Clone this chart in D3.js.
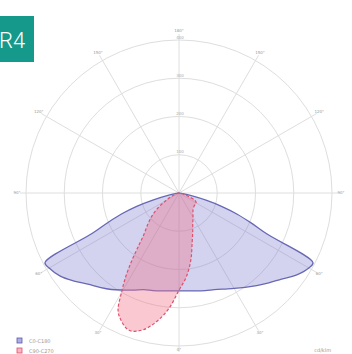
<!DOCTYPE html>
<html>
<head>
<meta charset="utf-8">
<script src="https://cdn.jsdelivr.net/npm/d3@7"></script>
<style>
  html, body { margin: 0; padding: 0; background: #fff; }
  svg { display: block; }
</style>
</head>
<body>
<svg id="chart" width="352" height="354"></svg>
<script>
// Gamma angles (degrees from nadir) used for the intensity tables
const gammaAngles = [0, 5, 10, 15, 20, 25, 30, 35, 40, 45, 50, 55, 60, 62.5, 65, 67.5, 70, 72.5, 75, 77.5, 80, 85, 90];

// C0-C180 plane, cd/klm
const c0Values   = [256, 257, 260, 264, 269, 277, 288, 301, 316, 332, 350, 374, 392, 395, 254, 204, 162, 118, 73, 33, 10, 2, 0];
const c180Values = [256, 257, 260, 264, 269, 280, 293, 308, 322, 337, 358, 379, 392, 395, 251, 201, 159, 116, 71, 32, 10, 2, 0];

// C90-C270 plane, cd/klm
const gammaAnglesB = [0, 5, 10, 15, 20, 25, 27.5, 30, 32.5, 35, 37.5, 40, 45, 50, 55, 60, 65, 70, 75, 80, 85, 90];
const c90Values  = [254, 220, 178, 133, 105, 85, 79, 73, 68, 63, 60, 57, 54, 52, 52, 52, 47, 26, 13, 8, 3, 0];
const c270Values = [254, 303, 342, 371, 382, 363, 345, 301, 259, 214, 173, 144, 115, 91, 65, 39, 24, 13, 7, 3, 1, 0];

// Grid
const ringValues = [100, 200, 300, 400];
const spokeAngles = [0, 30, 60, 90, 120, 150, 180, 210, 240, 270, 300, 330];
const angleLabels = ["0°", "30°", "60°", "90°", "120°", "150°", "180°", "150°", "120°", "90°", "60°", "30°"];

const legendNames = ["C0-C180", "C90-C270"];
const unitLabel = "cd/klm";
const badgeText = "R4";

const svg = d3.select("#chart");
const cx = 179, cy = 193, R = 153;

const r = d3.scaleLinear().domain([0, 400]).range([0, R]);
const toRad = d => d * Math.PI / 180;

const g = svg.append("g").attr("transform", `translate(${cx},${cy})`);

// rings
g.selectAll("circle.ring").data(ringValues).join("circle")
  .attr("class", "ring")
  .attr("r", d => r(d))
  .attr("fill", "none")
  .attr("stroke", "#dedede")
  .attr("stroke-width", 1);

// spokes (0° of the diagram points down)
g.selectAll("line.spoke").data(spokeAngles).join("line")
  .attr("class", "spoke")
  .attr("x1", 0).attr("y1", 0)
  .attr("x2", d => (R + 6) * Math.sin(toRad(d)))
  .attr("y2", d => (R + 6) * Math.cos(toRad(d)))
  .attr("stroke", "#dedede")
  .attr("stroke-width", 1);

// angle labels
g.selectAll("text.ang").data(spokeAngles).join("text")
  .attr("class", "ang")
  .attr("x", d => (R + 9) * Math.sin(toRad(d)))
  .attr("y", d => Math.min((R + 9) * Math.cos(toRad(d)), 354 - cy - 4))
  .attr("text-anchor", "middle")
  .attr("dominant-baseline", "middle")
  .attr("font-family", "DejaVu Sans, sans-serif")
  .attr("font-size", 4)
  .attr("fill", "#999")
  .text((d, i) => angleLabels[i]);

// ring value labels along the upper vertical axis
g.selectAll("text.ringlab").data(ringValues).join("text")
  .attr("class", "ringlab")
  .attr("x", 1)
  .attr("y", d => -r(d) - 1.5)
  .attr("text-anchor", "middle")
  .attr("font-family", "DejaVu Sans, sans-serif")
  .attr("font-size", 4)
  .attr("fill", "#aaa")
  .text(d => d);

// build a closed polar outline: left half (angle π+γ) from 90° down to 0°, then right half (π-γ)
function outline(gammas, rightVals, leftVals) {
  const pts = [];
  for (let i = gammas.length - 1; i >= 0; i--) pts.push([Math.PI + toRad(gammas[i]), leftVals[i]]);
  for (let i = 1; i < gammas.length; i++) pts.push([Math.PI - toRad(gammas[i]), rightVals[i]]);
  return pts;
}

const radial = d3.lineRadial()
  .angle(d => d[0])
  .radius(d => r(d[1]))
  .curve(d3.curveCatmullRom.alpha(0.5));

// C0-C180
g.append("path")
  .attr("d", radial(outline(gammaAngles, c0Values, c180Values)) + "Z")
  .attr("fill", "rgba(120,120,210,0.33)")
  .attr("stroke", "#6868b4")
  .attr("stroke-width", 1.3)
  .attr("stroke-linejoin", "round");

// C90-C270
g.append("path")
  .attr("d", radial(outline(gammaAnglesB, c90Values, c270Values)) + "Z")
  .attr("fill", "rgba(238,110,135,0.38)")
  .attr("stroke", "#e0506c")
  .attr("stroke-width", 1.2)
  .attr("stroke-dasharray", "3,2")
  .attr("stroke-linejoin", "round");

// legend
const legend = svg.append("g").attr("transform", "translate(17,338)");
const swatch = [
  { fill: "rgba(120,120,210,0.6)", stroke: "#5a5aa8" },
  { fill: "rgba(238,110,135,0.5)", stroke: "#e0506c" }
];
legendNames.forEach((name, i) => {
  legend.append("rect")
    .attr("x", 0).attr("y", i * 10)
    .attr("width", 5).attr("height", 5)
    .attr("fill", swatch[i].fill)
    .attr("stroke", swatch[i].stroke)
    .attr("stroke-width", 0.8);
  legend.append("text")
    .attr("x", 12).attr("y", i * 10 + 4.5)
    .attr("font-family", "DejaVu Sans, sans-serif")
    .attr("font-size", 5)
    .attr("fill", "#999")
    .text(name);
});

// unit label
svg.append("text")
  .attr("x", 331).attr("y", 352)
  .attr("text-anchor", "end")
  .attr("font-family", "DejaVu Sans, sans-serif")
  .attr("font-size", 5)
  .attr("fill", "#999")
  .text(unitLabel);

// badge
svg.append("rect")
  .attr("x", 0).attr("y", 16)
  .attr("width", 34).attr("height", 46)
  .attr("fill", "#14998a");
svg.append("text")
  .attr("x", -1).attr("y", 48)
  .attr("font-family", "Roboto, sans-serif")
  .attr("font-weight", 300)
  .attr("font-size", 22)
  .attr("fill", "#fff")
  .text(badgeText);
</script>
</body>
</html>
